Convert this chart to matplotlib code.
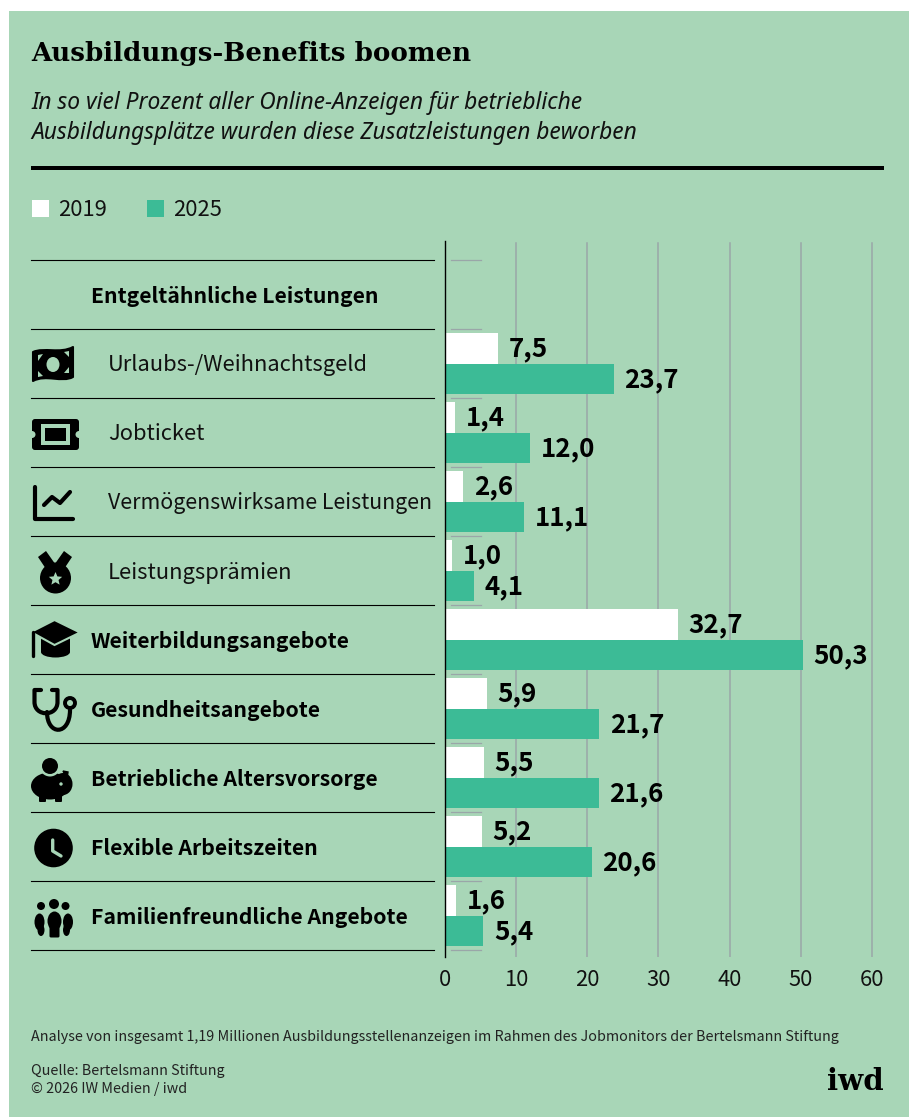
import numpy as np
import matplotlib
matplotlib.use("Agg")
import matplotlib.pyplot as plt
from matplotlib.patches import Rectangle, Circle, Ellipse, Polygon, FancyBboxPatch, PathPatch
from matplotlib.path import Path

# data
header = "Entgeltähnliche Leistungen"
categories = ["Urlaubs-/Weihnachtsgeld", "Jobticket", "Vermögenswirksame Leistungen",
              "Leistungsprämien", "Weiterbildungsangebote", "Gesundheitsangebote",
              "Betriebliche Altersvorsorge", "Flexible Arbeitszeiten",
              "Familienfreundliche Angebote"]
values_2019 = [7.5, 1.4, 2.6, 1.0, 32.7, 5.9, 5.5, 5.2, 1.6]
values_2025 = [23.7, 12.0, 11.1, 4.1, 50.3, 21.7, 21.6, 20.6, 5.4]
x_ticks = [0, 10, 20, 30, 40, 50, 60]
series_names = ["2019", "2025"]

BG = "#A8D6B7"
GREEN = "#3CBB96"
GRID = "#9AA6A8"
W, H = 909, 1117
SANS = "Noto Sans CJK SC"  # latin glyphs are close to the original face
ITALIC = "Noto Sans"
SERIF = "DejaVu Serif"

fig = plt.figure(figsize=(W / 100, H / 100), dpi=100, facecolor="white")

# overlay in pixel coordinates for the page furniture
page = fig.add_axes([0, 0, 1, 1], zorder=0)
page.set_xlim(0, W)
page.set_ylim(H, 0)
page.axis("off")
page.add_patch(Rectangle((9, 11), W - 9, H - 11, fc=BG, ec="none"))

# chart axes
left, right, top, bottom = 445, 885, 241, 957
ax = fig.add_axes([left / W, 1 - bottom / H, (right - left) / W, (bottom - top) / H], zorder=1)
ax.patch.set_alpha(0)
ax.set_xlim(0, (right - left) / 7.115)
ax.set_ylim((bottom - 294.5) / 69, (top - 294.5) / 69)

y = np.arange(len(categories)) + 1
bar_h = 30.5 / 69
b1 = ax.barh(y - bar_h / 2, values_2019, height=bar_h, color="white", zorder=2)
b2 = ax.barh(y + bar_h / 2, values_2025, height=bar_h, color=GREEN, zorder=2)
for bars, vals in ((b1, values_2019), (b2, values_2025)):
    for rect, v in zip(bars, vals):
        ax.annotate(f"{v:.1f}".replace(".", ","), (v, rect.get_y() + rect.get_height() / 2),
                    xytext=(7.5, -0.5), textcoords="offset points", va="center", ha="left",
                    fontsize=18.7, fontweight="bold", family=SANS, color="black")

ax.set_xticks(x_ticks)
ax.set_yticks([])
ax.tick_params(axis="x", length=0, pad=9, labelsize=15.8, labelcolor="#111111")
for lab in ax.get_xticklabels():
    lab.set_family(SANS)
ax.set_axisbelow(True)
for t in x_ticks[1:]:
    ax.plot([t, t], [ax.get_ylim()[0], (243 - 294.5) / 69], color=GRID, lw=1.1, zorder=1)
for s in ("top", "right", "bottom"):
    ax.spines[s].set_visible(False)
ax.spines["left"].set_linewidth(1)

# title block
page.text(31, 54, "Ausbildungs-Benefits boomen", family=SERIF, fontweight="bold",
          fontsize=18.8, va="center", color="black")
page.text(31, 103, "In so viel Prozent aller Online-Anzeigen für betriebliche", family=ITALIC,
          style="italic", fontsize=16.4, va="center", color="#111111")
page.text(31, 133, "Ausbildungsplätze wurden diese Zusatzleistungen beworben", family=ITALIC,
          style="italic", fontsize=16.4, va="center", color="#111111")
page.add_patch(Rectangle((31, 166), 853, 4, fc="black", ec="none"))

# legend
for sx, c, name in zip((32, 147), ("white", GREEN), series_names):
    page.add_patch(Rectangle((sx, 200), 17, 17, fc=c, ec="none"))
    page.text(sx + 26, 210, name, family=SANS, fontsize=15.8, va="center", color="#111111")

# table rows
for i in range(len(categories) + 2):
    ly = 260 + 69 * i
    page.plot([31, 434], [ly, ly], color="black", lw=0.8)
    page.plot([451, 481], [ly, ly], color=GRID, lw=0.9)
page.text(91, 296.5, header, family=SANS, fontweight="bold", fontsize=15.3, va="center", color="black")
for i, name in enumerate(categories):
    cy = 365.5 + 69 * i
    if i < 4:
        # the long label is set tighter in the original
        size = 15.35 if len(name) > 25 else 15.8
        page.text(108, cy, name, family=SANS, fontsize=size, va="center", color="#111111")
    else:
        page.text(91, cy, name, family=SANS, fontweight="bold", fontsize=15.3, va="center", color="black")


# icons
def circ(x, y_, r, c="black"):
    page.add_patch(Circle((x, y_), r, fc=c, ec="none"))


def line(xs, ys, lw, c="black"):
    page.plot(xs, ys, color=c, lw=lw, solid_capstyle="round", solid_joinstyle="round")


# banknote
note = Path([(33, 352), (44, 347), (60, 354), (73, 347), (73, 377), (62, 383), (46, 374), (33, 381), (33, 352)],
            [Path.MOVETO, Path.CURVE4, Path.CURVE4, Path.CURVE4, Path.LINETO,
             Path.CURVE4, Path.CURVE4, Path.CURVE4, Path.CLOSEPOLY])
page.add_patch(PathPatch(note, fc="black", ec="black", lw=1.5, joinstyle="round"))
page.add_patch(Ellipse((53, 364.5), 13, 15, fc=BG, ec="none"))
for p in ([(38, 355), (43, 354), (38, 361)], [(69, 351), (64, 352), (69, 357)],
          [(38, 377), (43, 376), (38, 371)], [(69, 373), (64, 373), (69, 367)]):
    page.add_patch(Polygon(p, fc=BG, ec="none"))

# ticket
page.add_patch(FancyBboxPatch((35, 422), 41, 25, boxstyle="round,pad=3", fc="black", ec="none"))
circ(32, 434.5, 3.5, BG)
circ(79, 434.5, 3.5, BG)
page.add_patch(Rectangle((41, 424), 29, 21, fc=BG, ec="none"))
page.add_patch(Rectangle((45, 428), 21, 13, fc="black", ec="none"))

# trend chart
line([34.5, 34.5, 72.5], [487, 518.5, 518.5], 3)
line([44, 52, 60, 70], [505, 497, 503, 492], 3)

# medal
page.add_patch(Polygon([(38, 557), (46, 551), (58, 568), (50, 575)], fc="black", ec="none"))
page.add_patch(Polygon([(72, 557), (64, 551), (52, 568), (60, 575)], fc="black", ec="none"))
circ(55.5, 578, 15.5)
a = np.linspace(-np.pi / 2, 1.5 * np.pi, 11)[:-1]
r = np.where(np.arange(10) % 2 == 0, 7, 3.2)
page.add_patch(Polygon(np.c_[55.5 + r * np.cos(a), 579 + r * np.sin(a)], fc=BG, ec="none"))

# graduation cap
page.add_patch(Rectangle((41, 638), 29, 14, fc="black", ec="none"))
page.add_patch(Ellipse((55.5, 652), 29, 11, fc="black", ec="none"))
page.add_patch(Polygon([(54.5, 620), (80, 632.5), (54.5, 645), (31, 632)], fc="black", ec=BG, lw=1.5))
line([33, 33], [632, 656], 2.4)

# stethoscope
steth = Path([(41, 690), (34.5, 690), (34.5, 702), (34.5, 717), (57.5, 717), (57.5, 702), (57.5, 690), (52, 690)],
             [Path.MOVETO, Path.LINETO, Path.LINETO, Path.CURVE4, Path.CURVE4, Path.CURVE4, Path.LINETO, Path.LINETO])
page.add_patch(PathPatch(steth, fc="none", ec="black", lw=3, capstyle="round", joinstyle="round"))
tube = Path([(47, 712), (47, 736), (70, 736), (70, 710)], [Path.MOVETO, Path.CURVE4, Path.CURVE4, Path.CURVE4])
page.add_patch(PathPatch(tube, fc="none", ec="black", lw=3, capstyle="round"))
page.add_patch(Circle((70, 703), 5, fc="none", ec="black", lw=2.8))

# piggy bank
page.add_patch(Ellipse((50, 786), 38, 27, fc="black", ec="none"))
page.add_patch(Ellipse((63, 784), 19, 22, fc="black", ec="none"))
page.add_patch(Polygon([(63, 771), (68, 772), (67, 779)], fc="black", ec="black"))
page.add_patch(FancyBboxPatch((40, 793), 5, 8, boxstyle="round,pad=1", fc="black", ec="none"))
page.add_patch(FancyBboxPatch((56, 793), 5, 8, boxstyle="round,pad=1", fc="black", ec="none"))
circ(50, 766, 10.5, BG)
circ(50, 766, 8)
circ(61, 784, 1.7, BG)

# clock
circ(53.5, 848, 19.3)
line([52.7, 52.7, 61], [840, 851, 856], 2.4, BG)

# family
for bx in (39.5, 68):
    page.add_patch(Ellipse((bx, 922), 10, 17, fc="black", ec="none"))
    page.add_patch(Ellipse((bx + (1.5 if bx < 50 else -1.5), 930), 7, 12, fc="black", ec="none"))
page.add_patch(Ellipse((54.5, 921), 14, 19, fc="black", ec="none"))
page.add_patch(FancyBboxPatch((51, 925), 7, 11, boxstyle="round,pad=1.5", fc="black", ec="none"))
circ(41, 906, 4)
circ(54, 904, 5)
circ(65.5, 906, 4)

# footer
page.text(31, 1036.5, "Analyse von insgesamt 1,19 Millionen Ausbildungsstellenanzeigen im Rahmen des Jobmonitors der Bertelsmann Stiftung",
          family=SANS, fontsize=10.3, va="center", color="#222222")
page.text(31, 1070.5, "Quelle: Bertelsmann Stiftung", family=SANS, fontsize=10.3, va="center", color="#222222")
page.text(31, 1089.5, "© 2026 IW Medien / iwd", family=SANS, fontsize=10.3, va="center", color="#222222")
page.text(884, 1082, "iwd", family=SERIF, fontweight="bold", fontsize=21, va="center", ha="right", color="black")

fig.savefig("out.png", dpi=100, facecolor="white")
